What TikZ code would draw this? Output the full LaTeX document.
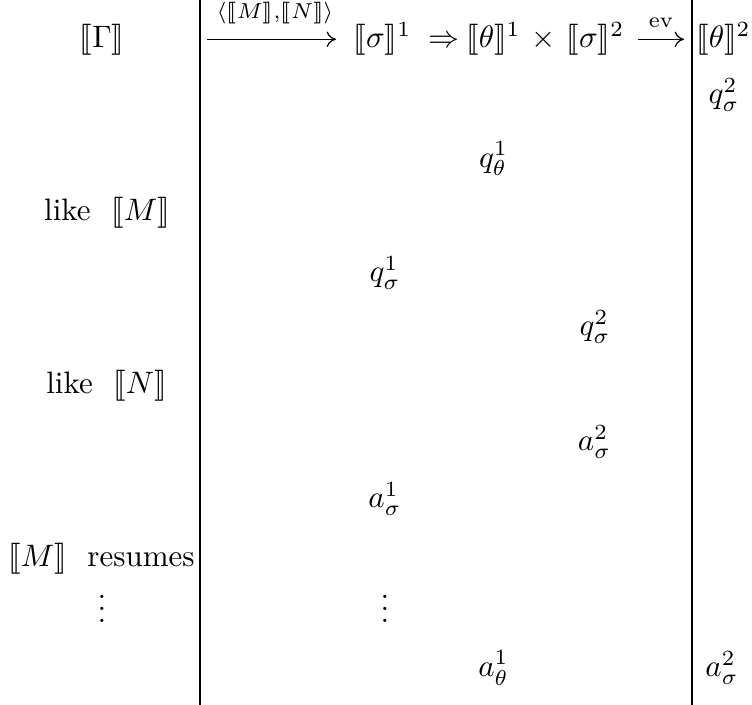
\documentclass[tikz,border=0pt]{standalone}
\usepackage{amsmath}
\usepackage{stmaryrd}
\usetikzlibrary{arrows.meta}
\newcommand{\sem}[1]{\llbracket #1\rrbracket}
\begin{document}
\begin{tikzpicture}[x=0.3226pt,y=-0.3226pt,
  lbl/.style={inner sep=0pt,anchor=center},
  hd/.style={inner sep=0pt,anchor=base},
  rulel/.style={line width=0.4pt},
  arr/.style={-{To[length=3pt,width=5pt]},line width=0.4pt}]
\useasboundingbox (0,0) rectangle (752,705);
% vertical rules
\coordinate (Lt) at (200,0); \coordinate (Lb) at (200,705);
\coordinate (Rt) at (692,0); \coordinate (Rb) at (692,705);
\draw[rulel] (Lt) -- (Lb);
\draw[rulel] (Rt) -- (Rb);
% header
\node[hd] (gamma) at (102,48) {$\sem{\Gamma}$};
\node[hd] (sig1) at (382.5,48) {$\sem{\sigma}^1$};
\node[hd] (impl) at (443.5,48) {$\Rightarrow$};
\node[hd] (the1) at (493.5,48) {$\sem{\theta}^1$};
\node[hd] (times) at (544,48) {$\times$};
\node[hd] (sig2) at (595.5,48) {$\sem{\sigma}^2$};
\node[hd] (the2) at (723.5,48) {$\sem{\theta}^2$};
\coordinate (pairS) at (207,39.3); \coordinate (pairE) at (336,39.3);
\draw[arr] (pairS) -- (pairE);
\node[lbl] (pairL) at (275,13) {$\scriptstyle\langle\sem{M},\sem{N}\rangle$};
\coordinate (evS) at (638,39.3); \coordinate (evE) at (684,39.3);
\draw[arr] (evS) -- (evE);
\node[lbl] (evL) at (661,23) {$\scriptstyle\mathrm{ev}$};
% moves
\node[lbl] (q2r) at (724,95) {$q^2_\sigma$};
\node[lbl] (q1t) at (493.5,159) {$q^1_\theta$};
\node[lbl] (likeM) at (107,213) {like\ \ $\sem{M}$};
\node[lbl] (q1s) at (385,273) {$q^1_\sigma$};
\node[lbl] (q2s) at (595,327) {$q^2_\sigma$};
\node[lbl] (likeN) at (106.5,386) {like\ \ $\sem{N}$};
\node[lbl] (a2s) at (594.5,442) {$a^2_\sigma$};
\node[lbl] (a1s) at (385,499) {$a^1_\sigma$};
\node[lbl] (resM) at (101.5,559) {$\sem{M}$\ \ resumes};
\node[hd] (vdL) at (102,623) {$\vdots$};
\node[hd] (vdM) at (385,623) {$\vdots$};
\node[lbl] (a1t) at (493.5,668) {$a^1_\theta$};
\node[lbl] (a2r) at (722,668) {$a^2_\sigma$};
\end{tikzpicture}
\end{document}
